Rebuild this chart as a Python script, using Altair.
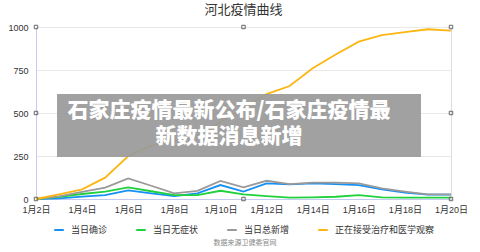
import altair as alt
import pandas as pd

days = list(range(2, 21))
confirmed = [0, 4, 14, 23, 50, 33, 17, 33, 81, 43, 91, 85, 91, 87, 81, 56, 37, 25, 25]
asymptomatic = [0, 12, 29, 43, 68, 45, 23, 23, 48, 27, 17, 8, 10, 13, 23, 10, 8, 8, 8]
total_new = [0, 15, 42, 66, 120, 77, 33, 47, 105, 68, 106, 87, 95, 95, 91, 62, 43, 27, 27]
under_care = [0, 27, 56, 124, 250, 310, 338, 367, 448, 529, 610, 657, 760, 840, 915, 953, 970, 987, 979]

series_names = ["当日确诊", "当日无症状", "当日总新增", "正在接受治疗和医学观察"]
series_colors = ["#1590f5", "#1fd13c", "#9a9a9a", "#fbb613"]
y_ticks = [0, 250, 500, 750, 1000]
x_ticks = list(range(2, 21, 2))

title_text = "河北疫情曲线"
banner_lines = ["石家庄疫情最新公布/石家庄疫情最", "新数据消息新增"]
source_text = "数据来源卫健委官网"

handle_days = [2, 11, 20, 2, 20, 2, 11, 20]
handle_vals = [1000, 1000, 1000, 500, 500, 0, 0, 0]

FONT = "Liberation Sans, Noto Sans CJK SC"

rows = []
for name, vals in zip(series_names, [confirmed, asymptomatic, total_new, under_care]):
    for d, v in zip(days, vals):
        rows.append({"day": d, "value": v, "series": name})
df = pd.DataFrame(rows)

W, H = 415, 172

x_scale = alt.Scale(domain=[2, 20], nice=False, zero=False)
y_scale = alt.Scale(domain=[0, 1000], nice=False)

x_axis = alt.Axis(values=x_ticks, labelExpr="'1月' + datum.value + '日'",
                  grid=False, ticks=False, domainColor="#c5cbf0",
                  labelPadding=6, labelFontSize=9, labelColor="#333",
                  labelOverlap=False, labelFlush=False, labelFont=FONT, title=None)
y_axis = alt.Axis(values=y_ticks, format="d", ticks=False, domainColor="#c5cbf0",
                  gridColor="#e8e8e8", labelPadding=8, labelFontSize=9,
                  labelFlush=False, labelColor="#333", labelFont=FONT, title=None)

lines = alt.Chart(df).mark_line(strokeWidth=1.8).encode(
    x=alt.X("day:Q", scale=x_scale, axis=x_axis),
    y=alt.Y("value:Q", scale=y_scale, axis=y_axis),
    color=alt.Color("series:N",
                    scale=alt.Scale(domain=series_names, range=series_colors),
                    sort=series_names,
                    legend=alt.Legend(orient="none", legendX=17, legendY=197,
                                      direction="horizontal", title=None,
                                      symbolType="stroke", symbolStrokeWidth=2,
                                      symbolSize=90, labelFontSize=9,
                                      labelColor="#333", labelFont=FONT,
                                      columnPadding=24, labelOffset=6)),
    order=alt.Order("day:Q"),
)

hdf = pd.DataFrame({"day": handle_days, "value": handle_vals})
handles = alt.Chart(hdf).mark_point(shape="square", filled=False, size=12,
                                    color="#666", strokeWidth=1, opacity=1).encode(
    x=alt.X("day:Q", scale=x_scale, axis=x_axis),
    y=alt.Y("value:Q", scale=y_scale, axis=y_axis))

one = pd.DataFrame({"a": [0]})
title = alt.Chart(one).mark_text(text=title_text, fontSize=13, font=FONT,
                                 color="#333", baseline="middle", align="center").encode(
    x=alt.value(W / 2), y=alt.value(-17))

banner = alt.Chart(one).mark_rect(color="#9a9a9a", opacity=0.93).encode(
    x=alt.value(21), x2=alt.value(385), y=alt.value(67), y2=alt.value(130))

banner_text1 = alt.Chart(one).mark_text(text=banner_lines[0], fontSize=21, fontWeight=900,
                                        font="Noto Sans CJK SC", color="white",
                                        baseline="middle", align="center").encode(
    x=alt.value(193), y=alt.value(84))
banner_text2 = alt.Chart(one).mark_text(text=banner_lines[1], fontSize=21, fontWeight=900,
                                        font="Noto Sans CJK SC", color="white",
                                        baseline="middle", align="center").encode(
    x=alt.value(193), y=alt.value(110))

source = alt.Chart(one).mark_text(text=source_text, fontSize=7, font=FONT,
                                  color="#888", baseline="middle", align="center").encode(
    x=alt.value(209), y=alt.value(216))

chart = alt.layer(lines, handles, banner, banner_text1, banner_text2, title, source).properties(
    width=W, height=H,
    autosize=alt.AutoSizeParams(type="none"),
    padding={"left": 36, "top": 27, "right": 29, "bottom": 53},
).configure_view(stroke="#c5cbf0").configure(background="white")

chart.save("out.html", embed_options={"renderer": "svg", "actions": False})
